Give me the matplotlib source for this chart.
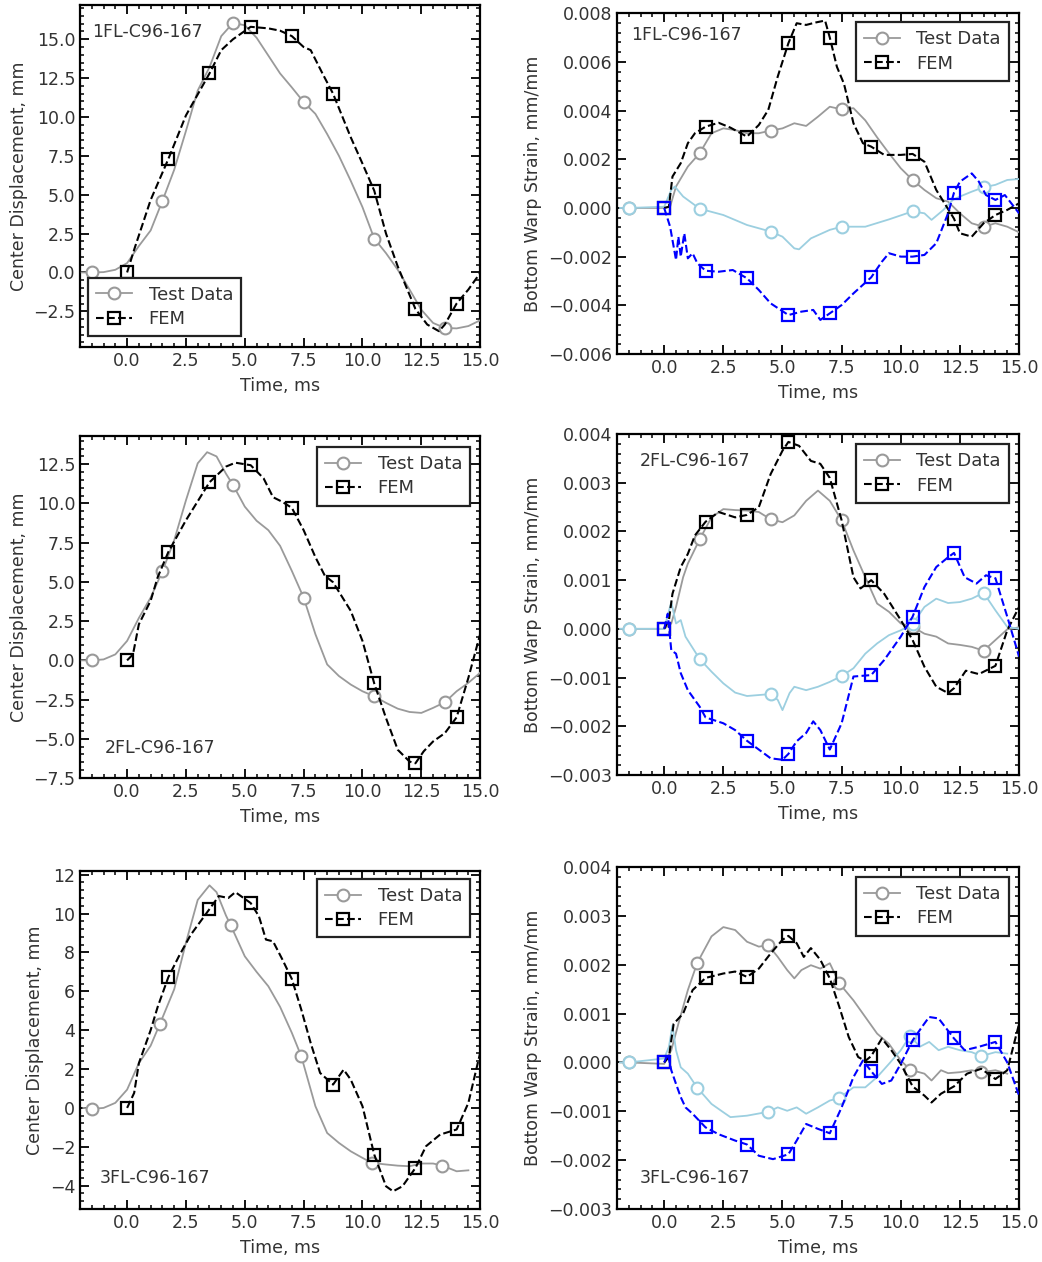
import numpy as np
import matplotlib
matplotlib.use("Agg")
import matplotlib.pyplot as plt
from matplotlib.ticker import MultipleLocator, AutoMinorLocator, FuncFormatter

# ---- data ---------------------------------------------------------------
# marker times
TEST_MK = [-1.5, 1.5, 4.5, 7.5, 10.5, 13.5]
TEST_MK3 = [-1.5, 1.4, 4.4, 7.4, 10.4, 13.4]
FEM_MK = [0.0, 1.75, 3.5, 5.25, 7.0, 8.75, 10.5, 12.25, 14.0]

# 1FL center displacement
t1_test = [-1.93, -1.5, -1.0, -0.5, 0.0, 0.5, 1.0, 1.5, 2.0, 2.5, 3.0, 3.5, 4.0, 4.5, 5.0,
           5.5, 6.0, 6.5, 7.0, 7.5, 8.0, 8.5, 9.0, 9.5, 10.0, 10.5, 11.0, 11.5, 12.0,
           12.5, 13.0, 13.5, 14.0, 14.5, 15.0]
d1_test = [0, 0, 0.02, 0.17, 0.6, 1.7, 2.7, 4.6, 6.6, 9.1, 11.7, 13.2, 15.2, 16.05, 15.9,
           15.1, 13.95, 12.8, 11.9, 10.96, 10.2, 8.9, 7.5, 5.9, 4.2, 2.18, 1.24, 0.17, -1.1,
           -2.4, -3.25, -3.57, -3.6, -3.45, -3.08]
t1_fem = [0, 0.32, 1.0, 1.75, 2.5, 3.5, 4.0, 4.5, 5.25, 6.0, 6.5, 7.0, 7.5, 7.8, 8.3, 8.75,
          9.5, 10.0, 10.5, 11.0, 11.5, 12.25, 12.75, 13.25, 13.5, 14.0, 14.5, 15.0]
d1_fem = [0, 1.56, 4.66, 7.29, 10.1, 12.8, 14.3, 15.0, 15.8, 15.7, 15.55, 15.2, 14.5, 14.3,
          12.8, 11.5, 8.7, 7.0, 5.26, 2.5, 0.38, -2.35, -3.35, -3.78, -3.35, -2.0, -1.1, -0.04]

# 1FL bottom warp strain (gauge A: grey/black, gauge B: light blue/blue)
t1s_test = [-1.86, -1.5, 0.0, 0.25, 0.5, 1.0, 1.5, 2.0, 2.5, 3.0, 3.5, 4.0, 4.5, 5.0, 5.5,
            6.0, 6.5, 7.0, 7.5, 8.0, 8.5, 9.0, 9.5, 10.0, 10.5, 11.0, 11.5, 12.0, 12.5,
            13.0, 13.5, 14.0, 14.5, 15.0]
s1_test = [0, 0, 0, 0.00005, 0.00088, 0.0017, 0.00225, 0.00307, 0.00327, 0.0032, 0.00307,
           0.00307, 0.00318, 0.00327, 0.00348, 0.00337, 0.00375, 0.00416, 0.00405, 0.0041,
           0.0036, 0.0029, 0.00225, 0.00163, 0.00115, 0.00074, 0.0004, 0.00026, -0.00022,
           -0.00063, -0.00077, -0.00063, -0.00077, -0.001]
t1s_fem = [0, 0.2, 0.35, 0.7, 1.0, 1.3, 1.75, 2.3, 2.8, 3.5, 4.0, 4.4, 4.8, 5.25, 5.6, 6.0,
           6.4, 6.8, 7.0, 7.3, 7.6, 8.0, 8.4, 8.75, 9.3, 10.0, 10.5, 11.0, 11.5, 12.25,
           12.5, 13.0, 13.5, 14.0, 14.5, 15.0]
s1_fem = [0, 0.00005, 0.00129, 0.00184, 0.00266, 0.00307, 0.00334, 0.0035, 0.0033, 0.00293,
          0.00341, 0.00403, 0.0054, 0.00677, 0.00759, 0.00752, 0.00762, 0.0077, 0.007,
          0.0058, 0.0051, 0.00348, 0.00266, 0.00252, 0.00218, 0.00218, 0.00222, 0.0019,
          0.00074, -0.00044, -0.00104, -0.00118, -0.00063, -0.00029, -0.00008, 0.00019]
t1b_test = [-1.86, -1.5, 0.0, 0.3, 0.45, 0.8, 1.5, 2.5, 3.5, 4.5, 5.0, 5.5, 5.7, 6.2, 7.0,
            7.5, 8.5, 9.5, 10.5, 11.0, 11.3, 11.8, 12.2, 12.5, 13.0, 13.5, 14.0, 14.5, 15.0]
s1b_test = [0, 0, 0.00005, 0.00074, 0.00088, 0.00047, -0.00003, -0.00029, -0.0007, -0.00097,
            -0.00118, -0.00166, -0.0017, -0.00125, -0.0009, -0.00077, -0.00077, -0.00047,
            -0.00014, -0.00022, -0.00049, -0.00008, 0.00033, 0.00047, 0.00067, 0.00085,
            0.00095, 0.00115, 0.00119]
t1b_fem = [0, 0.25, 0.4, 0.5, 0.6, 0.7, 0.85, 1.0, 1.2, 1.4, 1.75, 2.3, 2.9, 3.5, 4.0, 4.5,
           5.25, 5.8, 6.3, 6.6, 7.0, 7.5, 8.0, 8.75, 9.2, 9.5, 10.0, 10.5, 11.0, 11.5, 12.0,
           12.25, 12.5, 13.0, 13.3, 13.6, 14.0, 14.4, 15.0]
s1b_fem = [0, -0.00077, -0.00159, -0.00214, -0.00118, -0.002, -0.00104, -0.00207, -0.00186,
           -0.00227, -0.00258, -0.00262, -0.00255, -0.00289, -0.00337, -0.00392, -0.0044,
           -0.00426, -0.00419, -0.0046, -0.00433, -0.00399, -0.00351, -0.00285, -0.00221,
           -0.00186, -0.002, -0.002, -0.00193, -0.00145, -0.00022, 0.00063, 0.00108, 0.00142,
           0.00108, 0.00053, 0.00033, 0.00053, -0.00022]

# 2FL center displacement
t2_test = [-1.93, -1.5, -1.0, -0.5, 0.0, 0.5, 1.0, 1.5, 2.0, 2.5, 3.0, 3.4, 3.8, 4.2, 4.5,
           5.0, 5.5, 6.0, 6.5, 7.0, 7.5, 8.0, 8.5, 9.0, 9.5, 10.0, 10.5, 11.0, 11.5, 12.0,
           12.5, 13.0, 13.5, 14.0, 14.5, 15.0]
d2_test = [0, 0, 0.06, 0.38, 1.24, 2.7, 4.0, 5.68, 7.65, 10.2, 12.56, 13.27, 13.0, 11.9,
           11.18, 9.8, 8.9, 8.3, 7.3, 5.7, 4.0, 1.67, -0.26, -1.0, -1.54, -1.97, -2.29, -2.71,
           -3.08, -3.29, -3.35, -3.03, -2.67, -1.97, -1.43, -0.79]
t2_fem = [0, 0.25, 0.5, 1.0, 1.3, 1.75, 2.5, 3.5, 4.2, 4.6, 5.25, 5.8, 6.2, 6.6, 7.0, 7.5,
          8.0, 8.4, 8.75, 9.5, 10.0, 10.5, 11.0, 11.5, 12.0, 12.25, 12.6, 13.0, 13.5, 14.0,
          14.5, 15.0]
d2_fem = [0, 0.38, 2.3, 3.8, 5.3, 6.9, 8.93, 11.35, 12.35, 12.6, 12.44, 11.6, 10.4, 10.1,
          9.72, 8.3, 6.58, 5.4, 4.98, 3.16, 1.24, -1.47, -3.68, -5.7, -6.45, -6.56, -5.8,
          -5.17, -4.64, -3.63, -1.11, 1.67]

# 2FL bottom warp strain
t2s_test = [-1.86, -1.5, 0.0, 0.3, 0.5, 0.8, 1.0, 1.5, 2.0, 2.5, 3.0, 3.5, 4.0, 4.5, 5.0,
            5.5, 6.0, 6.5, 7.0, 7.5, 8.0, 8.5, 9.0, 9.5, 10.0, 10.5, 11.0, 11.5, 12.0, 12.5,
            13.0, 13.5, 14.0, 14.5, 15.0]
s2_test = [0, 0, 0, 0.00011, 0.00045, 0.00106, 0.00134, 0.00184, 0.00229, 0.00246, 0.00244,
           0.00243, 0.0024, 0.00225, 0.00219, 0.00233, 0.00263, 0.00284, 0.00263, 0.00223,
           0.00161, 0.00106, 0.00052, 0.00035, 0.00011, 0.00004, -0.0001, -0.00016, -0.0003,
           -0.00033, -0.00037, -0.00045, -0.00023, -0.00001, 0.00003]
t2s_fem = [0, 0.2, 0.35, 0.7, 1.0, 1.3, 1.75, 2.3, 3.0, 3.5, 4.0, 4.5, 5.0, 5.25, 5.7, 6.2,
           6.6, 7.0, 7.5, 8.0, 8.3, 8.75, 9.3, 10.0, 10.5, 11.0, 11.5, 12.0, 12.25, 12.75,
           13.3, 14.0, 14.5, 15.0]
s2_fem = [0, 0.00018, 0.00072, 0.00127, 0.00154, 0.00192, 0.0022, 0.0024, 0.00229, 0.00234,
          0.0025, 0.00318, 0.00366, 0.00384, 0.00376, 0.00345, 0.00339, 0.0031, 0.00223,
          0.00106, 0.00083, 0.001, 0.00072, 0.00018, -0.00023, -0.00078, -0.00119, -0.00132,
          -0.00122, -0.00086, -0.00093, -0.00076, -0.00003, 0.00045]
t2b_test = [-1.86, -1.5, 0.0, 0.3, 0.5, 0.7, 0.9, 1.5, 2.0, 2.5, 3.0, 3.5, 4.0, 4.5, 4.8,
            5.0, 5.3, 5.5, 6.0, 6.5, 7.0, 7.5, 8.0, 8.5, 9.0, 9.5, 10.0, 10.5, 11.0, 11.5,
            12.0, 12.5, 13.0, 13.5, 14.0, 14.5, 15.0]
s2b_test = [0, 0, 0, 0.00055, 0.00011, 0.00018, -0.00016, -0.00062, -0.00088, -0.00112,
            -0.00131, -0.00138, -0.00136, -0.00134, -0.00146, -0.00167, -0.00132, -0.00119,
            -0.00126, -0.00119, -0.00109, -0.00097, -0.00081, -0.00051, -0.0003, -0.00013,
            -0.00003, 0.0001, 0.00045, 0.00062, 0.00053, 0.00055, 0.00062, 0.00074, 0.00038,
            0.00004, 0]
t2b_fem = [0, 0.15, 0.3, 0.5, 0.7, 1.0, 1.5, 1.75, 2.5, 3.0, 3.5, 4.0, 4.5, 5.0, 5.25, 5.6,
           6.0, 6.3, 6.6, 7.0, 7.5, 8.0, 8.75, 9.3, 10.0, 10.5, 11.0, 11.5, 12.0, 12.25,
           12.7, 13.2, 13.6, 14.0, 14.5, 15.0]
s2b_fem = [0, 0.00031, -0.00044, -0.00051, -0.00091, -0.00126, -0.0016, -0.00182, -0.00194,
           -0.00208, -0.0023, -0.00248, -0.00266, -0.00269, -0.00257, -0.00231, -0.00214,
           -0.0019, -0.00208, -0.00248, -0.00194, -0.00098, -0.00095, -0.00064, -0.00016,
           0.00025, 0.00086, 0.00127, 0.00147, 0.00156, 0.00106, 0.00093, 0.0011, 0.00104,
           0.00025, -0.00057]

# 3FL center displacement
t3_test = [-1.86, -1.5, -1.0, -0.5, 0.0, 0.5, 1.0, 1.4, 2.0, 2.5, 3.0, 3.5, 3.8, 4.2, 4.4,
           5.0, 5.5, 6.0, 6.5, 7.0, 7.4, 8.0, 8.5, 9.0, 9.5, 10.0, 10.4, 11.0, 11.5, 12.0,
           12.5, 13.0, 13.4, 14.0, 14.5]
d3_test = [0, -0.05, 0, 0.26, 0.94, 2.3, 3.2, 4.34, 6.1, 8.5, 10.7, 11.45, 11.1, 9.9, 9.4,
           7.8, 7.0, 6.26, 5.2, 3.86, 2.66, 0.09, -1.29, -1.8, -2.23, -2.57, -2.83, -2.91,
           -2.97, -3.0, -2.86, -2.86, -2.97, -3.26, -3.21]
t3_fem = [0, 0.3, 0.5, 1.0, 1.3, 1.75, 2.2, 2.7, 3.5, 3.9, 4.3, 4.6, 5.25, 5.6, 5.9, 6.2,
          6.6, 7.0, 7.4, 7.8, 8.2, 8.75, 9.2, 9.5, 10.0, 10.5, 11.0, 11.3, 11.7, 12.25,
          12.7, 13.3, 14.0, 14.5, 15.0]
d3_fem = [0, 0.77, 2.3, 4.0, 5.2, 6.72, 7.8, 8.9, 10.23, 10.9, 10.8, 11.1, 10.54, 9.86,
          8.66, 8.57, 7.63, 6.63, 5.06, 3.34, 1.8, 1.2, 1.97, 1.46, 0.09, -2.4, -4.03, -4.29,
          -4.03, -3.09, -1.97, -1.37, -1.11, 0.26, 2.83]

# 3FL bottom warp strain
t3s_test = [-1.86, -1.5, 0.0, 0.3, 0.6, 1.0, 1.4, 2.0, 2.5, 3.0, 3.5, 4.0, 4.4, 4.8, 5.2,
            5.5, 5.8, 6.2, 6.6, 7.0, 7.4, 8.0, 8.5, 9.0, 9.5, 10.0, 10.4, 11.0, 11.3, 11.7,
            12.0, 12.5, 13.0, 13.4, 14.0, 14.5]
s3_test = [0, 0, -0.00003, 0.00025, 0.00079, 0.00148, 0.00204, 0.00258, 0.00277, 0.00271,
           0.00247, 0.00237, 0.0024, 0.00216, 0.00189, 0.00172, 0.00189, 0.00199, 0.00192,
           0.00203, 0.00162, 0.00127, 0.00093, 0.00059, 0.00038, 0.00004, -0.00015,
           -0.00023, -0.00037, -0.00016, -0.00022, -0.0002, -0.00016, -0.0002, -0.00016,
           -0.00023]
t3s_fem = [0, 0.2, 0.4, 0.8, 1.2, 1.75, 2.5, 3.0, 3.5, 4.0, 4.5, 5.0, 5.25, 5.6, 5.9, 6.2,
           6.6, 7.0, 7.4, 7.8, 8.2, 8.5, 8.75, 9.2, 9.6, 10.0, 10.5, 11.0, 11.3, 11.7, 12.25,
           12.8, 13.4, 14.0, 14.5, 15.0]
s3_fem = [0, 0.00011, 0.00079, 0.001, 0.00148, 0.00173, 0.00182, 0.00186, 0.00175, 0.00192,
          0.00223, 0.00251, 0.00259, 0.00244, 0.00216, 0.00234, 0.0021, 0.00172, 0.00114,
          0.00052, 0.00011, 0.00003, 0.00013, 0.00049, 0.00025, -0.00003, -0.00049, -0.00068,
          -0.00082, -0.00064, -0.00049, -0.00023, -0.00013, -0.00034, -0.00016, 0.00079]
t3b_test = [-1.86, -1.5, 0.0, 0.2, 0.35, 0.5, 0.7, 1.0, 1.4, 2.0, 2.5, 2.8, 3.5, 4.4, 4.8,
            5.2, 5.6, 6.0, 6.5, 7.0, 7.4, 8.0, 8.5, 9.0, 9.5, 10.0, 10.4, 10.8, 11.2, 11.6,
            12.0, 12.5, 13.0, 13.4, 14.0, 14.5]
s3b_test = [0, 0, 0.00008, 0.00032, 0.00076, 0.00025, -0.0001, -0.00023, -0.00052, -0.00085,
            -0.00102, -0.00112, -0.00109, -0.00101, -0.00092, -0.00099, -0.00092, -0.00105,
            -0.00092, -0.00078, -0.00073, -0.00051, -0.00051, -0.0003, -0.00003, 0.00025,
            0.00055, 0.00032, 0.00042, 0.00025, 0.00032, 0.00025, 0.00021, 0.00013, 0.00021,
            0.00018]
t3b_fem = [0, 0.15, 0.3, 0.5, 0.7, 0.9, 1.2, 1.75, 2.3, 3.0, 3.5, 4.0, 4.6, 5.25, 5.6, 6.0,
           6.5, 7.0, 7.5, 8.0, 8.4, 8.75, 9.2, 9.6, 10.0, 10.5, 10.9, 11.2, 11.6, 12.25,
           12.7, 13.3, 14.0, 14.5, 15.0]
s3b_fem = [0, 0.00018, -0.00016, -0.00044, -0.00071, -0.00092, -0.00105, -0.00133, -0.00147,
           -0.0016, -0.00168, -0.00191, -0.00198, -0.00188, -0.0016, -0.00126, -0.00136,
           -0.00145, -0.00092, -0.0003, 0.00004, -0.00018, -0.00044, -0.00037, -0.00003,
           0.00045, 0.00073, 0.00093, 0.0009, 0.00049, 0.00025, 0.00032, 0.00042, 0, -0.00068]

GREY = "#9a9a9a"
LBLUE = "#9ccfe0"
BLUE = "#0000ff"
TXT = "#333333"

plt.rcParams.update({"font.family": "DejaVu Sans", "font.size": 12,
                     "axes.linewidth": 1.6, "text.color": TXT,
                     "xtick.color": "black", "ytick.color": "black",
                     "xtick.labelcolor": TXT, "ytick.labelcolor": TXT,
                     "axes.labelcolor": TXT})


def marks(t, mk):
    t = np.asarray(t)
    return [int(np.argmin(np.abs(t - m))) for m in mk]


def plot_test(ax, t, y, color, mk, label=None):
    ax.plot(t, y, "-", color=color, lw=1.3, marker="o", ms=8.5, mfc="white",
            mec=color, mew=1.5, markevery=marks(t, mk), label=label, zorder=3)


def plot_fem(ax, t, y, color, label=None):
    ax.plot(t, y, "--", color=color, lw=1.5, marker="s", ms=8.5, mfc="none",
            mec=color, mew=1.6, markevery=marks(t, FEM_MK), label=label, zorder=4)


def style(ax, ylim, ymajor, ylabel, strain=False):
    ax.set_xlim(-2, 15)
    ax.set_ylim(*ylim)
    ax.xaxis.set_major_locator(MultipleLocator(2.5))
    ax.xaxis.set_minor_locator(AutoMinorLocator(5))
    ax.yaxis.set_major_locator(MultipleLocator(ymajor))
    ax.yaxis.set_minor_locator(AutoMinorLocator(5))
    ax.tick_params(which="both", direction="in", top=True, right=True, labelsize=12.5)
    ax.tick_params(which="major", length=6.5, width=1.3)
    ax.tick_params(which="minor", length=3, width=1.1)
    if strain:
        ax.yaxis.set_major_formatter(FuncFormatter(lambda v, p: f"{v:.3f}".replace("-", "\u2212")))
    ax.set_xlabel("Time, ms", fontsize=12.5, labelpad=5)
    ax.set_ylabel(ylabel, fontsize=12.5)


def legend(ax, loc, anchor):
    lg = ax.legend(loc=loc, bbox_to_anchor=anchor, fontsize=13, handlelength=2.0,
                   handletextpad=0.9, borderpad=0.45, labelspacing=0.35,
                   fancybox=False, framealpha=1, borderaxespad=0)
    lg.get_frame().set_edgecolor("#222222")
    lg.get_frame().set_linewidth(1.6)


fig = plt.figure(figsize=(10.42, 12.62), dpi=100)
L = [0.0768, 0.384]
R = [0.592, 0.386]
ax1 = fig.add_axes([L[0], 0.725, L[1], 0.271])
ax2 = fig.add_axes([R[0], 0.7195, R[1], 0.270])
ax3 = fig.add_axes([L[0], 0.3835, L[1], 0.271])
ax4 = fig.add_axes([R[0], 0.386, R[1], 0.270])
ax5 = fig.add_axes([L[0], 0.042, L[1], 0.268])
ax6 = fig.add_axes([R[0], 0.042, R[1], 0.271])

DISP = "Center Displacement, mm"
STRAIN = "Bottom Warp Strain, mm/mm"

# row 1
plot_test(ax1, t1_test, d1_test, GREY, TEST_MK, "Test Data")
plot_fem(ax1, t1_fem, d1_fem, "black", "FEM")
style(ax1, (-4.8, 17.2), 2.5, DISP)
ax1.text(0.03, 0.92, "1FL-C96-167", transform=ax1.transAxes, fontsize=12.5, va="center")
legend(ax1, "lower left", (0.02, 0.032))

plot_test(ax2, t1s_test, s1_test, GREY, TEST_MK, "Test Data")
plot_fem(ax2, t1s_fem, s1_fem, "black", "FEM")
plot_test(ax2, t1b_test, s1b_test, LBLUE, TEST_MK)
plot_fem(ax2, t1b_fem, s1b_fem, BLUE)
style(ax2, (-0.006, 0.008), 0.002, STRAIN, strain=True)
ax2.text(0.035, 0.935, "1FL-C96-167", transform=ax2.transAxes, fontsize=12.5, va="center")
legend(ax2, "upper right", (1 - 10 / 402, 1 - 9 / 341))

# row 2
plot_test(ax3, t2_test, d2_test, GREY, TEST_MK, "Test Data")
plot_fem(ax3, t2_fem, d2_fem, "black", "FEM")
style(ax3, (-7.5, 14.3), 2.5, DISP)
ax3.text(0.0625, 0.088, "2FL-C96-167", transform=ax3.transAxes, fontsize=12.5, va="center")
legend(ax3, "upper right", (1 - 10 / 400, 1 - 11 / 342))

plot_test(ax4, t2s_test, s2_test, GREY, TEST_MK, "Test Data")
plot_fem(ax4, t2s_fem, s2_fem, "black", "FEM")
plot_test(ax4, t2b_test, s2b_test, LBLUE, TEST_MK)
plot_fem(ax4, t2b_fem, s2b_fem, BLUE)
style(ax4, (-0.003, 0.004), 0.001, STRAIN, strain=True)
ax4.text(0.057, 0.92, "2FL-C96-167", transform=ax4.transAxes, fontsize=12.5, va="center")
legend(ax4, "upper right", (1 - 10 / 402, 1 - 10 / 341))

# row 3
plot_test(ax5, t3_test, d3_test, GREY, TEST_MK3, "Test Data")
plot_fem(ax5, t3_fem, d3_fem, "black", "FEM")
style(ax5, (-5.2, 12.2), 2, DISP)
ax5.text(0.05, 0.092, "3FL-C96-167", transform=ax5.transAxes, fontsize=12.5, va="center")
legend(ax5, "upper right", (1 - 10 / 400, 1 - 8 / 338))

plot_test(ax6, t3s_test, s3_test, GREY, TEST_MK3, "Test Data")
plot_fem(ax6, t3s_fem, s3_fem, "black", "FEM")
plot_test(ax6, t3b_test, s3b_test, LBLUE, TEST_MK3)
plot_fem(ax6, t3b_fem, s3b_fem, BLUE)
style(ax6, (-0.003, 0.004), 0.001, STRAIN, strain=True)
ax6.text(0.057, 0.09, "3FL-C96-167", transform=ax6.transAxes, fontsize=12.5, va="center")
legend(ax6, "upper right", (1 - 10 / 402, 1 - 10 / 342))

fig.savefig("out.png", dpi=100)
